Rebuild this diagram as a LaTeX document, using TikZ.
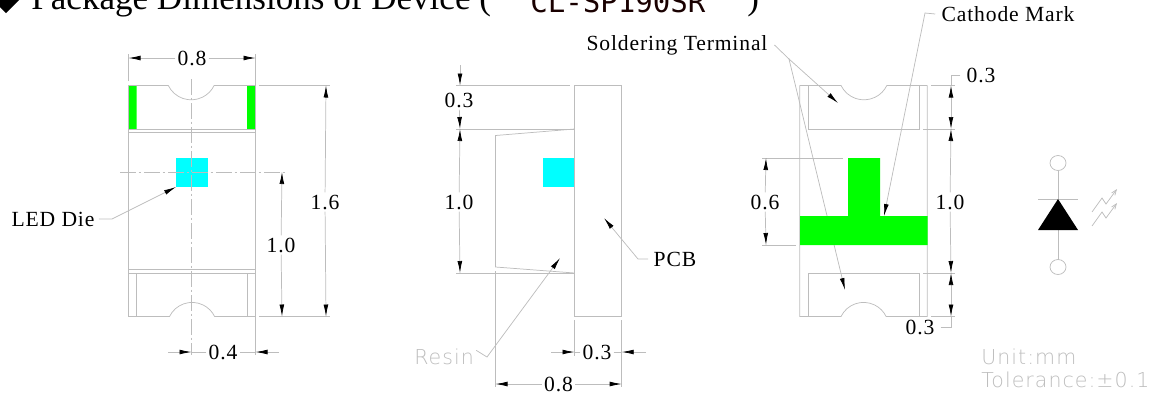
\documentclass[tikz,border=0pt]{standalone}
\usepackage{fontspec}
\setmainfont{Liberation Serif}
\newfontfamily\cadfont[LetterSpace=5]{DejaVu Sans ExtraLight}
\newfontfamily\partfont{DejaVu Sans Mono}
\newfontfamily\labelfont[LetterSpace=4]{Liberation Serif}
\usepackage{tikz}
\usetikzlibrary{calc,positioning}
\usetikzlibrary{arrows.meta}
\definecolor{cadline}{gray}{0.74}
\definecolor{cadtext}{gray}{0.74}
\definecolor{pad}{RGB}{0,255,0}
\definecolor{die}{RGB}{0,255,255}
\tikzset{>={Latex[length=9pt,width=3.6pt,color=black]}}

\begin{document}
\begin{tikzpicture}[x=0.75pt,y=-0.75pt,line width=0.55pt]
    \tikzstyle{lnode} = [inner sep=1.5pt, font=\labelfont\fontsize{16.2}{17}\selectfont, align=center]
    \tikzstyle{cnode} = [inner sep=1.5pt, text=cadtext, font=\cadfont\fontsize{15.4}{17}\selectfont, anchor=base west]
    \tikzstyle{cadl} = [draw=cadline]
    \tikzstyle{axis} = [draw=cadline, dash pattern=on 12pt off 2pt on 2pt off 2pt]

    \useasboundingbox (0,0) rectangle (1162,394);

    % heading
    \fill[black] (-7,0) -- (6,-13) -- (19,0) -- (6,13) -- cycle;
    \node[anchor=base west, inner sep=0pt, font=\fontsize{26.3}{28}\selectfont] (title) at (31,9) {Package Dimensions of Device (};
    \node[anchor=base west, inner sep=0pt, font=\partfont\fontsize{21.8}{24}\selectfont, text={black!90!red}] (part) at (530,12) {CL-SP190SR};
    \node[anchor=base west, inner sep=0pt, font=\fontsize{26.3}{28}\selectfont] (close) at (747,9) {)};

    % front view
    \fill[pad] (128,85.5) rectangle (136.5,129) (247,85.5) rectangle (255.5,129);
    \fill[die] (176,158) rectangle (208,187);
    \draw[cadl] (128.5,85.5) -- (168.3,85.5) arc[start angle=154,end angle=26,radius=25.5] -- (255.5,85.5);
    \draw[cadl] (128.5,85.5) -- (128.5,316.5) -- (169.5,316.5) arc[start angle=206,end angle=334,radius=25.1] -- (255.5,316.5);
    \draw[cadl] (128.5,129) -- (255.5,129) (128.5,132) -- (255.5,132);
    \draw[cadl] (128.5,269.5) -- (255.5,269.5) (128.5,273) -- (255.5,273);
    \draw[cadl] (136.5,273) -- (136.5,316.5) (247.5,273) -- (247.5,316.5);
    \draw[axis] (120,172) -- (286,172);
    \draw[axis] (191.5,79) -- (191.5,355);
    \draw[cadl] (128.5,54) -- (128.5,81);
    \draw[cadl] (255.5,54) -- (255.5,355);
    \draw[cadl] (259,85.5) -- (330,85.5) (259,316.5) -- (330,316.5);

    \coordinate (fl) at (128.5,58);
    \coordinate (fr) at (255.5,58);
    \coordinate (ft) at (326,85.5);
    \coordinate (fb) at (326,316.5);
    \coordinate (fc) at (282,172);
    \coordinate (fd) at (282,316.5);
    \coordinate (fe) at (168,352);
    \coordinate (ff) at (191.5,352);
    \coordinate (fg) at (279,352);
    \coordinate (fh) at (255.5,352);
    \node[lnode] (w08) at (192,58) {0.8};
    \node[lnode] (h16) at (325,202) {1.6};
    \node[lnode] (h10) at (281,245) {1.0};
    \node[lnode] (w04) at (223,352) {0.4};
    \node[lnode, inner xsep=3pt] (led) at (53,219) {LED Die};
    \draw[cadl,->] (w08) -- (fl);
    \draw[cadl,->] (w08) -- (fr);
    \draw[cadl,->] (h16) -- (ft);
    \draw[cadl,->] (h16) -- (fb);
    \draw[cadl,->] (h10) -- (fc);
    \draw[cadl,->] (h10) -- (fd);
    \draw[cadl,->] (fe) -- (ff);
    \draw[cadl] (w04) -- (fh);
    \draw[cadl,->] (fg) -- (fh);
    \draw[cadl] (w04) -- (ff);
    \coordinate (ledtip) at (176,187);
    \draw[cadl,->] (led.east) -- (112,219) -- (ledtip);

    % side view
    \fill[die] (542.7,158) rectangle (575,187);
    \draw[cadl] (574.5,85.5) rectangle (621.7,316.5);
    \draw[cadl] (574.5,129) -- (495.5,135.5) -- (495.5,267) -- (574.5,273);
    \draw[cadl] (456,85.5) -- (570,85.5) (456,129) -- (574.5,129) (456,273) -- (574.5,273);
    \draw[cadl] (495.5,271) -- (495.5,387);
    \draw[cadl] (574.5,320) -- (574.5,356) (621.7,320) -- (621.7,387);

    \coordinate (sa) at (460,65);
    \coordinate (sb) at (460,85.5);
    \coordinate (sc) at (460,129);
    \coordinate (sd) at (460,273);
    \coordinate (se) at (551,352);
    \coordinate (sf) at (574.5,352);
    \coordinate (sg) at (646,352);
    \coordinate (sh) at (621.7,352);
    \coordinate (si) at (495.5,384);
    \coordinate (sj) at (621.7,384);
    \node[lnode] (d03) at (459,100) {0.3};
    \node[lnode] (d10) at (459,202) {1.0};
    \node[lnode] (e03) at (597,352) {0.3};
    \node[lnode] (e08) at (558.5,384) {0.8};
    \node[lnode, inner xsep=4pt] (pcb) at (675,259) {PCB};
    \node[cnode] (resin) at (412,364) {Resin};
    \draw[cadl,->] (sa) -- (sb);
    \draw[cadl,->] (d03) -- (sc);
    \draw[cadl,->] (d10) -- (sc);
    \draw[cadl,->] (d10) -- (sd);
    \draw[cadl,->] (se) -- (sf);
    \draw[cadl] (e03) -- (sf);
    \draw[cadl,->] (sg) -- (sh);
    \draw[cadl] (e03) -- (sh);
    \draw[cadl,->] (e08) -- (si);
    \draw[cadl,->] (e08) -- (sj);
    \coordinate (pcbtip) at (604,218);
    \coordinate (resintip) at (560,258);
    \draw[cadl,->] (pcb.west) -- (638,259) -- (pcbtip);
    \draw[cadl,->] (resin.east) ++(0,-6) -- (487,357) -- (resintip);

    % back view
    \draw[cadl] (799.7,85.5) -- (841,85.5) arc[start angle=154,end angle=26,radius=25.5] -- (927.3,85.5);
    \draw[cadl] (799.7,85.5) -- (799.7,316.5) -- (841,316.5) arc[start angle=206,end angle=334,radius=25.1] -- (927.3,316.5) -- (927.3,85.5);
    \draw[cadl] (808.5,85.5) -- (808.5,129) -- (919.5,129) -- (919.5,85.5);
    \draw[cadl] (808.5,316.5) -- (808.5,273) -- (919.5,273) -- (919.5,316.5);
    \draw[cadl] (931,85.5) -- (955,85.5) (923,129) -- (955,129) (923,273) -- (955,273) (931,316.5) -- (955,316.5);
    \draw[cadl] (762,158) -- (843,158) (762,245) -- (796,245);

    \coordinate (ba) at (951,85.5);
    \coordinate (bb) at (951,129);
    \coordinate (bc) at (951,273);
    \coordinate (bd) at (951,316.5);
    \coordinate (be) at (766,158);
    \coordinate (bf) at (766,245);
    \coordinate (bg) at (789,59);
    \coordinate (bh) at (838,103);
    \coordinate (bi) at (845,290);
    \coordinate (bj) at (884,216);
    \node[lnode, inner xsep=4.5pt] (q03) at (981,75) {0.3};
    \node[lnode, inner xsep=4.5pt] (p03) at (920,327) {0.3};
    \node[lnode] (r10) at (950,202) {1.0};
    \node[lnode] (r06) at (765,202) {0.6};
    \node[lnode, inner xsep=5pt] (solder) at (677,45) {Soldering Terminal};
    \node[lnode, inner xsep=4.5pt] (cathode) at (1008,14) {Cathode Mark};
    \draw[cadl] (q03.west) -| (ba);
    \draw[cadl] (p03.east) -| (bd);
    \draw[cadl,<->] (ba) -- (bb);
    \draw[cadl,->] (r10) -- (bb);
    \draw[cadl,->] (r10) -- (bc);
    \draw[cadl,<->] (bc) -- (bd);
    \draw[cadl,->] (r06) -- (be);
    \draw[cadl,->] (r06) -- (bf);
    \draw[cadl] (solder.east) -- (bg);
    \draw[cadl,->] (bg) -- (bh);
    \draw[cadl,->] (bg) -- (bi);
    \draw[cadl,->] (cathode.west) -- (925,13) -- (bj);
    \fill[pad] (848,158) rectangle (880,216) (800,216) rectangle (927.5,245);

    % diode symbol
    \draw[cadl] (1058,163) ellipse (8 and 7.5) (1058,267) ellipse (8 and 7.5);
    \draw[cadl] (1058,170.5) -- (1058,259.5);
    \draw[cadl] (1038,199) -- (1078,199);
    \fill[black] (1058,199) -- (1038,230) -- (1078,230) -- cycle;
    \draw[cadl,-{Straight Barb[length=4pt,width=3pt]}] (1092,212) -- (1102,198) -- (1106,204) -- (1117,189);
    \draw[cadl,-{Straight Barb[length=4pt,width=3pt]}] (1092,226) -- (1102,212) -- (1106,218) -- (1117,203);

    \node[cnode] (unit) at (979,364) {Unit:mm};
    \node[cnode] (tol) at (979,387) {Tolerance:±0.1};
\end{tikzpicture}
\end{document}
